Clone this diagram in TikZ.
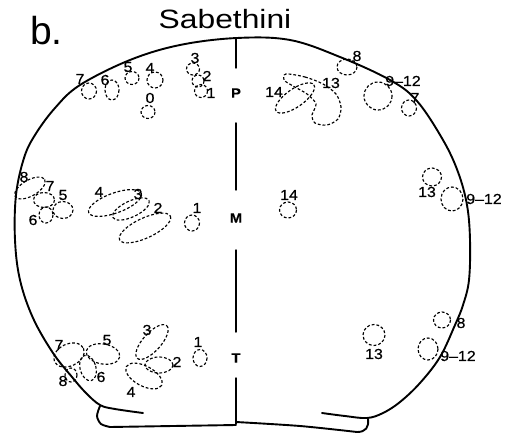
\documentclass[tikz,border=0pt]{standalone}
\usepackage{fontspec}
\setmainfont{Liberation Sans}
\newfontfamily\titlefont[FakeStretch=1.2]{Liberation Sans}
\newfontfamily\labelfont[FakeStretch=1.1, FakeBold=0.6]{Liberation Sans}
\usepackage{tikz}
\usetikzlibrary{positioning}

\begin{document}
\begin{tikzpicture}[
    x=1pt, y=-1pt,
    outline/.style={line width=1.9pt, line cap=round, line join=round},
    zone/.style={line width=1.15pt, dash pattern=on 2.8pt off 2pt},
    num/.style={font=\labelfont\fontsize{14.5}{14.5}\selectfont, inner sep=0pt},
    region/.style={font=\labelfont\bfseries\fontsize{13.5}{13.5}\selectfont, inner sep=0pt},
]
    \useasboundingbox (0,0) rectangle (513,438);

    % Panel letter and tribe name
    \node[font=\fontsize{39}{39}\selectfont, inner sep=0pt, anchor=base west] (panel) at (30,45) {b.};
    \node[font=\titlefont\fontsize{26.5}{26.5}\selectfont, inner sep=0pt, anchor=base] (tribe) at (225,29) {Sabethini};

    % Scutum outline
    \draw[outline] plot[smooth, tension=0.6] coordinates {(143,413) (115,409) (100,405) (86,393) (72,377)
        (53,353) (33,318) (20,280) (15,240) (16,195) (24,158) (35,135) (55,108) (80,85) (130,60) (180,45)
        (237,38) (290,40) (340,57) (390,80) (417,101) (443,140) (458,172) (467,205) (470,240) (469,280)
        (463,305) (455,325) (440,357) (420,383) (400,402) (383,413) (367,418) (345,416) (322,413)};
    % base
    \draw[outline] plot[smooth] coordinates {(100,406) (97,416) (101,424) (110,427)} -- (236,425);
    \draw[outline] plot[smooth] coordinates {(236,422) (300,426) (357,432)} .. controls (366,432) and (369,427) .. (368,419);

    % Midline, broken at the region letters
    \draw[outline, line width=1.5pt] (236,38) -- (236,68);
    \draw[outline, line width=1.5pt] (236,123) -- (236,190);
    \draw[outline, line width=1.5pt] (236,250) -- (236,332);
    \draw[outline, line width=1.5pt] (236,378) -- (236,424);
    \node[region] (regP) at (236,93) {P};
    \node[region] (regM) at (236,218) {M};
    \node[region] (regT) at (236,358) {T};

    % P row, left half
    \draw[zone] (89,91) ellipse [x radius=7.5, y radius=8];
    \draw[zone] (112,90) ellipse [x radius=7, y radius=10];
    \draw[zone] (132,78) ellipse [x radius=7, y radius=6.5];
    \draw[zone] (155,80) ellipse [x radius=8, y radius=8];
    \draw[zone] (148,112) ellipse [x radius=7, y radius=6.5];
    \draw[zone] (193,69) ellipse [x radius=6.5, y radius=6];
    \draw[zone] (198,81) ellipse [x radius=6, y radius=6];
    \draw[zone] (201,91) ellipse [x radius=6.5, y radius=6.5];
    \node[num] (pl7) at (80,79) {7};
    \node[num] (pl6) at (105,80) {6};
    \node[num] (pl5) at (128,67) {5};
    \node[num] (pl4) at (150,68) {4};
    \node[num] (pl0) at (150,98) {0};
    \node[num] (pl3) at (195,58) {3};
    \node[num] (pl2) at (207,76) {2};
    \node[num] (pl1) at (211,93) {1};

    % P row, right half
    \draw[zone] (347,67) ellipse [x radius=10, y radius=8];
    \draw[zone] (378,96) ellipse [x radius=14, y radius=14];
    \draw[zone] (409,108) ellipse [x radius=7.5, y radius=8];
    \draw[zone] plot[smooth cycle] coordinates {(286,74) (305,77) (323,84) (336,94) (341,107) (338,119)
        (327,125) (315,123) (312,115) (316,104) (307,94) (293,86) (284,80)};
    \draw[zone, rotate around={35:(295,98)}] (295,98) ellipse [x radius=23, y radius=9];
    \node[num] (pr8) at (357,56) {8};
    \node[num] (pr9) at (403,81) {9\textendash12};
    \node[num] (pr7) at (415,98) {7};
    \node[num] (pr13) at (331,83) {13};
    \node[num] (pr14) at (274,92) {14};

    % M row, left half
    \draw[zone, rotate around={30:(30,188)}] (30,188) ellipse [x radius=17, y radius=8];
    \draw[zone] (44,200) ellipse [x radius=10.5, y radius=7.5];
    \draw[zone] (63,210) ellipse [x radius=10, y radius=8.5];
    \draw[zone] (46,215) ellipse [x radius=7, y radius=8];
    \draw[zone, rotate around={20:(115,203)}] (115,203) ellipse [x radius=28, y radius=10];
    \draw[zone, rotate around={25:(131,209)}] (131,209) ellipse [x radius=20, y radius=8];
    \draw[zone, rotate around={25:(145,228)}] (145,228) ellipse [x radius=28, y radius=10];
    \draw[zone] (192,223) ellipse [x radius=7.5, y radius=8];
    \node[num] (ml8) at (24,177) {8};
    \node[num] (ml7) at (50,186) {7};
    \node[num] (ml5) at (63,195) {5};
    \node[num] (ml6) at (33,220) {6};
    \node[num] (ml4) at (99,192) {4};
    \node[num] (ml3) at (138,194) {3};
    \node[num] (ml2) at (158,208) {2};
    \node[num] (ml1) at (197,208) {1};

    % M row, right half
    \draw[zone] (288,210) ellipse [x radius=8.5, y radius=8];
    \draw[zone] (432,177) ellipse [x radius=9.5, y radius=9];
    \draw[zone] (452,199) ellipse [x radius=11, y radius=12];
    \node[num] (mr14) at (289,195) {14};
    \node[num] (mr13) at (427,192) {13};
    \node[num] (mr9) at (484,199) {9\textendash12};

    % T row, left half
    \draw[zone, rotate around={25:(69,355)}] (69,355) ellipse [x radius=16, y radius=11];
    \draw[zone, rotate around={-10:(103,354)}] (103,354) ellipse [x radius=17, y radius=10];
    \draw[zone, rotate around={15:(88,368)}] (88,368) ellipse [x radius=8, y radius=13];
    \draw[zone] (71,375) ellipse [x radius=6, y radius=7];
    \draw[zone, rotate around={48:(152,342)}] (152,342) ellipse [x radius=22, y radius=9];
    \draw[zone] (159,365) ellipse [x radius=14, y radius=8];
    \draw[zone, rotate around={-28:(144,376)}] (144,376) ellipse [x radius=20, y radius=10];
    \draw[zone] (200,358) ellipse [x radius=7, y radius=8.5];
    \node[num] (tl7) at (59,345) {7};
    \node[num] (tl5) at (107,340) {5};
    \node[num] (tl6) at (101,377) {6};
    \node[num] (tl8) at (63,381) {8};
    \node[num] (tl3) at (147,330) {3};
    \node[num] (tl2) at (177,362) {2};
    \node[num] (tl4) at (131,392) {4};
    \node[num] (tl1) at (198,342) {1};

    % T row, right half
    \draw[zone] (374,335) ellipse [x radius=11, y radius=10.5];
    \draw[zone] (442,320) ellipse [x radius=8.5, y radius=8];
    \draw[zone] (428,349) ellipse [x radius=10, y radius=11];
    \node[num] (tr13) at (374,354) {13};
    \node[num] (tr8) at (461,323) {8};
    \node[num] (tr9) at (458,356) {9\textendash12};
\end{tikzpicture}
\end{document}
